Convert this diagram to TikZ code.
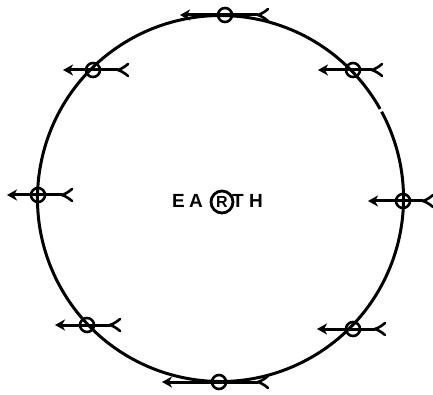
\documentclass[tikz,border=0pt]{standalone}
\usepackage{fontspec}
\setmainfont{Liberation Sans}
\usetikzlibrary{arrows.meta}
\tikzset{
  orbit/.style={line width=3pt},
  satnode/.style={circle, draw, line width=2.6pt, minimum size=14pt, inner sep=0pt},
  shaft/.style={line width=3pt, -{Stealth[length=10pt,width=11pt,inset=3pt]}},
  fletch/.style={line width=2.6pt, line cap=round},
  letter/.style={font=\fontsize{19}{19}\selectfont\bfseries, inner sep=0pt, anchor=center},
  earthring/.style={circle, draw, line width=2.8pt, minimum size=22pt, inner sep=0pt}
}
\newcommand\satellite[5]{%
  \node[satnode] (#1) at (#2,#3) {};
  \coordinate (#1tip) at (#4,#3);
  \coordinate (#1tail) at ({#5-10},#3);
  \coordinate (#1armA) at (#5,{#3-6});
  \coordinate (#1armB) at (#5,{#3+6});
  \draw[shaft] (#1tail) -- (#1tip);
  \draw[fletch] (#1armA) to[bend left=10] (#1tail) to[bend left=10] (#1armB);
}
\begin{document}
\begin{tikzpicture}[x=1pt,y=-1pt]
\useasboundingbox (0,0) rectangle (433,395);
\coordinate (C) at (220.5,198.5);
% orbit with a small gap on the upper right
\draw[orbit] (C) ++(-28.3:183) arc[start angle=-28.3, end angle=150, radius=183]
                 arc[start angle=150, end angle=330.7, radius=183];
% satellites
\satellite{s1}{225}{15}{180}{268}
\satellite{s2}{93}{70}{63}{128}
\satellite{s3}{353}{70}{318}{382}
\satellite{s4}{38}{195}{7}{72}
\satellite{s5}{403}{201}{368}{433}
\satellite{s6}{87}{325}{55}{120}
\satellite{s7}{353}{329}{317}{385}
\satellite{s8}{219}{382}{162}{268}
% earth label
\node[letter] (e1) at (178.5,201) {E};
\node[letter] (e2) at (196,201) {A};
\node[earthring] (ring) at (222,202) {};
\node[letter, font=\fontsize{16}{16}\selectfont\bfseries] (e3) at (222,202) {R};
\node[letter] (e4) at (238,201) {T};
\node[letter] (e5) at (256,201) {H};
\end{tikzpicture}
\end{document}
